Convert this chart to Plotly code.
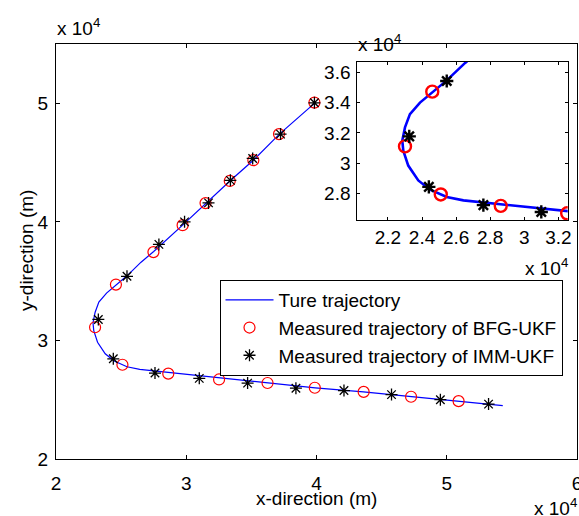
import plotly.graph_objects as go

# True trajectory (x10^4 m)
true_x = [5.43, 5.09, 4.73, 4.36, 3.99, 3.62, 3.257, 3.134, 2.957, 2.80, 2.643, 2.545, 2.447, 2.378,
          2.319, 2.290, 2.284, 2.300, 2.329, 2.388, 2.466, 2.545, 2.653, 2.75, 2.97, 3.15, 3.335,
          3.515, 3.715, 3.995]
true_y = [2.450, 2.488, 2.525, 2.566, 2.600, 2.643, 2.685, 2.700, 2.720, 2.740, 2.756, 2.778, 2.826, 2.887,
          2.985, 3.083, 3.149, 3.236, 3.323, 3.399, 3.471, 3.545, 3.660, 3.750, 3.970, 4.158, 4.345,
          4.520, 4.740, 5.010]

# Measured trajectory of BFG-UKF
bfg_x = [3.984, 3.712, 3.515, 3.334, 3.148, 2.972, 2.748, 2.460, 2.300, 2.510, 2.862, 3.252,
         3.624, 3.987, 4.362, 4.726, 5.091]
bfg_y = [5.006, 4.740, 4.520, 4.345, 4.158, 3.972, 3.745, 3.471, 3.111, 2.795, 2.720, 2.671,
         2.641, 2.601, 2.566, 2.525, 2.488]

# Measured trajectory of IMM-UKF
imm_x = [3.984, 3.724, 3.510, 3.339, 3.171, 2.987, 2.790, 2.545, 2.325, 2.440, 2.760, 3.100,
         3.471, 3.842, 4.211, 4.576, 4.951, 5.321]
imm_y = [5.004, 4.740, 4.535, 4.350, 4.160, 4.000, 3.810, 3.541, 3.177, 2.845, 2.725, 2.680,
         2.640, 2.597, 2.577, 2.543, 2.500, 2.463]

main_xticks = [2, 3, 4, 5, 6]
main_yticks = [2, 3, 4, 5]
inset_xticks = [2.2, 2.4, 2.6, 2.8, 3.0, 3.2]
inset_yticks = [2.8, 3.0, 3.2, 3.4, 3.6]

FONT = "Liberation Sans, Arial, sans-serif"
fs = 19

fig = go.Figure()
fig.add_trace(go.Scatter(x=true_x, y=true_y, mode="lines", name="Ture trajectory",
                         line=dict(color="#0000ff", width=1.2)))
fig.add_trace(go.Scatter(x=bfg_x, y=bfg_y, mode="markers", name="Measured trajectory of BFG-UKF",
                         marker=dict(symbol="circle-open", size=11, color="#ff0000", line=dict(width=1.2))))
fig.add_trace(go.Scatter(x=imm_x, y=imm_y, mode="markers", name="Measured trajectory of IMM-UKF",
                         marker=dict(symbol="asterisk-open", size=10, color="#000000", line=dict(width=1.3))))

# inset
fig.add_trace(go.Scatter(x=true_x, y=true_y, mode="lines", showlegend=False, xaxis="x2", yaxis="y2",
                         line=dict(color="#0000ff", width=2.6)))
fig.add_trace(go.Scatter(x=bfg_x, y=bfg_y, mode="markers", showlegend=False, xaxis="x2", yaxis="y2",
                         marker=dict(symbol="circle-open", size=12, color="#ff0000", line=dict(width=2.4))))
fig.add_trace(go.Scatter(x=imm_x, y=imm_y, mode="markers", showlegend=False, xaxis="x2", yaxis="y2",
                         marker=dict(symbol="asterisk-open", size=11, color="#000000", line=dict(width=2.4))))

W, H = 579, 516
L, R, T, B = 56, W - 577, 44, H - 459
pw, ph = W - L - R, H - T - B

def px(x):
    return (x - L) / pw

def py(y):
    return (H - B - y) / ph

axis_common = dict(showgrid=False, zeroline=False, showline=True, linecolor="black", linewidth=1,
                   mirror="ticks", ticks="inside", tickcolor="black", automargin=False,
                   ticklabeloverflow="allow",
                   tickfont=dict(family=FONT, size=fs, color="black"))

fig.update_layout(
    width=W, height=H,
    margin=dict(l=L, r=R, t=T, b=B, autoexpand=False),
    paper_bgcolor="white", plot_bgcolor="white",
    font=dict(family=FONT, size=fs, color="black"),
    xaxis=dict(range=[2, 6], tickvals=main_xticks, ticktext=[str(v) for v in main_xticks],
               ticklen=4, domain=[0, 1], ticklabelstandoff=7, **axis_common),
    yaxis=dict(range=[2, 5.5], tickvals=main_yticks, ticktext=[str(v) for v in main_yticks],
               ticklen=4, domain=[0, 1], ticklabelstandoff=3, **axis_common),
    xaxis2=dict(range=[2.02, 3.255], tickvals=inset_xticks, ticktext=["2.2", "2.4", "2.6", "2.8", "3", "3.2"],
                ticklen=3, anchor="y2", domain=[px(357.3), px(567.7)], **axis_common),
    yaxis2=dict(range=[2.627, 3.668], tickvals=inset_yticks, ticktext=["2.8", "3", "3.2", "3.4", "3.6"],
                ticklen=3, anchor="x2", domain=[py(220), py(61.7)], ticklabelstandoff=2, **axis_common),
    legend=dict(x=px(219.5), y=py(280), xanchor="left", yanchor="top",
                bgcolor="white", bordercolor="black", borderwidth=1,
                font=dict(family=FONT, size=fs, color="black"), itemwidth=48,
                tracegroupgap=0),
    showlegend=True,
)

ann_font = dict(family=FONT, size=fs, color="black")
# axis titles
fig.add_annotation(x=px(316), y=py(498), xref="paper", yref="paper", text="x-direction (m)",
                   showarrow=False, font=ann_font, xanchor="center", yanchor="middle")
fig.add_annotation(x=px(27), y=py(251), xref="paper", yref="paper", text="y-direction (m)",
                   showarrow=False, font=ann_font, xanchor="center", yanchor="middle", textangle=-90)
# exponent labels
for (ax_px, ay_px, xa) in [(55, 27, "left"), (579, 507, "right"), (356, 43, "left"), (523, 267, "left")]:
    fig.add_annotation(x=px(ax_px), y=py(ay_px), xref="paper", yref="paper", xanchor=xa, yanchor="middle",
                       text="x 10<sup>4</sup>", showarrow=False, font=ann_font)

fig.write_html("out.html", config={"displayModeBar": False},
               post_script="document.body.style.margin='0';document.body.style.overflow='hidden';")
